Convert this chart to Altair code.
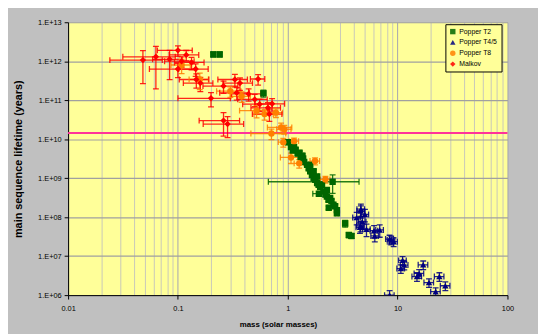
import altair as alt
import pandas as pd

SERIES = ["Popper T2", "Popper T4/5", "Popper T8", "Malkov"]
COLORS = ["#006600", "#000080", "#FF8000", "#FF0000"]
SHAPES = ["square", "triangle-up", "circle", "diamond"]

# Popper T2 (green squares)
T2_mass = [0.21, 0.24, 0.60, 1.00, 1.07, 1.11, 1.14, 1.18, 1.23, 1.28,
           1.31, 1.36, 1.38, 1.41, 1.50, 1.55, 1.60, 1.60, 1.66, 1.72,
           1.72, 1.78, 1.85, 1.85, 1.91, 1.97, 2.05, 2.11, 2.20, 2.27,
           2.27, 2.35, 2.36, 2.43, 2.50, 2.60, 2.70, 2.80, 2.80, 1.92,
           2.56, 3.33, 3.60, 3.80]
T2_life = [1.5e12, 1.5e12, 1.5e11, 8.4e9, 6.3e9, 5.1e9, 6.3e9, 5.4e9, 4.3e9, 4.5e9,
           3.5e9, 3.8e9, 3.2e9, 2.6e9, 2.2e9, 1.8e9, 1.5e9, 2.2e9, 1.2e9, 1.0e9,
           1.5e9, 9.1e8, 7.5e8, 1.1e9, 6.8e8, 5.9e8, 6.8e8, 4.6e8, 3.8e8, 3.4e8,
           5.0e8, 2.8e8, 1.75e8, 3.1e8, 2.6e8, 2.1e8, 1.9e8, 1.5e8, 1.25e8, 4.0e8,
           8.1e8, 6.9e7, 3.5e7, 3.3e7]
T2_ex = [0.04, 0.04, 0.05, 0.04, 0.03, 0.03, 0.03, 0.03, 0.03, 0.03,
         0.03, 0.03, 0.03, 0.03, 0.03, 0.03, 0.03, 0.03, 0.03, 0.03,
         0.03, 0.03, 0.03, 0.03, 0.03, 0.03, 0.03, 0.03, 0.03, 0.03,
         0.03, 0.03, 0.03, 0.03, 0.03, 0.03, 0.03, 0.03, 0.03, 0.12,
         0.74, 0.05, 0.05, 0.05]
T2_ey = [0.15, 0.15, 0.2, 0.15, 0.1, 0.1, 0.1, 0.1, 0.1, 0.1,
         0.1, 0.1, 0.1, 0.1, 0.1, 0.1, 0.1, 0.1, 0.1, 0.1,
         0.1, 0.1, 0.1, 0.1, 0.1, 0.1, 0.1, 0.1, 0.1, 0.1,
         0.1, 0.1, 0.1, 0.1, 0.1, 0.1, 0.1, 0.1, 0.1, 0.12,
         0.5, 0.2, 0.15, 0.15]

# Popper T4/5 (navy triangles)
B_mass = [4.63, 4.63, 4.24, 5.04, 4.77, 4.54, 4.60, 5.21, 6.10, 6.20,
          6.87, 8.45, 8.74, 9.20, 11.1, 11.5, 10.7, 17.1, 15.7, 15.0,
          19.3, 24.0, 27.2, 22.2, 8.45]
B_life = [1.45e8, 1.6e8, 9.8e7, 1.17e8, 7.6e7, 5.5e7, 6.0e7, 4.9e7, 4.5e7, 3.3e7,
          4.7e7, 2.75e7, 2.6e7, 2.35e7, 7.8e6, 5.9e6, 4.8e6, 6.0e6, 3.6e6, 3.0e6,
          2.1e6, 3.0e6, 1.74e6, 1.23e6, 1.0e6]
B_ex = [0.08, 0.08, 0.08, 0.08, 0.08, 0.08, 0.08, 0.08, 0.08, 0.08,
        0.08, 0.08, 0.08, 0.08, 0.08, 0.08, 0.08, 0.1, 0.1, 0.1,
        0.1, 0.1, 0.1, 0.1, 0.1]
B_ey = [0.35, 0.35, 0.35, 0.35, 0.35, 0.3, 0.3, 0.35, 0.35, 0.3,
        0.35, 0.25, 0.25, 0.25, 0.25, 0.25, 0.25, 0.25, 0.25, 0.25,
        0.25, 0.25, 0.25, 0.25, 0.3]

# Popper T8 (orange circles)
O_mass = [0.108, 0.158, 0.30, 0.38, 0.52, 0.615, 0.78, 0.87, 0.93, 0.71,
          0.91, 1.14, 1.07, 1.27, 1.77, 2.20]
O_life = [8.0e11, 3.4e11, 1.7e11, 1.26e11, 5.4e10, 4.4e10, 4.8e10, 2.0e10, 1.8e10, 1.4e10,
          8.4e9, 8.9e9, 3.4e9, 2.4e9, 2.75e9, 9.3e8]
O_ex = [0.2, 0.2, 0.25, 0.2, 0.3, 0.2, 0.15, 0.25, 0.15, 0.35,
        0.1, 0.1, 0.2, 0.1, 0.1, 0.1]
O_ey = [0.4, 0.45, 0.3, 0.3, 0.35, 0.3, 0.25, 0.3, 0.25, 0.3,
        0.25, 0.2, 0.3, 0.25, 0.2, 0.2]

# Malkov (red diamonds)
M_mass = [0.048, 0.063, 0.084, 0.100, 0.119, 0.100, 0.145, 0.147, 0.160, 0.200,
          0.260, 0.330, 0.367, 0.537, 0.343, 0.440, 0.500, 0.555, 0.720, 0.660,
          0.680, 0.260, 0.283, 0.133, 0.108]
M_life = [1.07e12, 1.3e12, 1.12e12, 1.9e12, 1.45e12, 6.3e11, 6.3e11, 3.4e11, 2.75e11, 1.12e11,
          2.3e11, 3.4e11, 2.75e11, 3.5e11, 1.55e11, 1.45e11, 1.05e11, 7.9e10, 8.1e10, 6.4e10,
          4.4e10, 3.0e10, 2.45e10, 9.3e11, 1.0e12]
M_ex = [0.5, 0.5, 0.3, 0.35, 0.3, 0.45, 0.3, 0.3, 0.3, 0.5,
        0.35, 0.3, 0.3, 0.15, 0.3, 0.3, 0.3, 0.3, 0.3, 0.3,
        0.3, 0.4, 0.4, 0.3, 0.3]
M_ey = [0.75, 0.85, 0.7, 0.3, 0.3, 0.4, 0.35, 0.4, 0.4, 0.4,
        0.35, 0.35, 0.35, 0.3, 0.35, 0.35, 0.35, 0.35, 0.35, 0.35,
        0.35, 0.6, 0.55, 0.35, 0.3]

UNIVERSE_AGE = 1.45e10

X_TICKS = [0.01, 0.02, 0.03, 0.04, 0.05, 0.06, 0.07, 0.08, 0.09,
           0.1, 0.2, 0.3, 0.4, 0.5, 0.6, 0.7, 0.8, 0.9,
           1, 2, 3, 4, 5, 6, 7, 8, 9,
           10, 20, 30, 40, 50, 60, 70, 80, 90, 100]
Y_TICKS = [1e6, 1e7, 1e8, 1e9, 1e10, 1e11, 1e12, 1e13]

rows = []
for name, ms, ls, exs, eys in [
    (SERIES[0], T2_mass, T2_life, T2_ex, T2_ey),
    (SERIES[1], B_mass, B_life, B_ex, B_ey),
    (SERIES[2], O_mass, O_life, O_ex, O_ey),
    (SERIES[3], M_mass, M_life, M_ex, M_ey),
]:
    for m, l, ex, ey in zip(ms, ls, exs, eys):
        rows.append(dict(series=name, mass=m, life=l,
                         mlo=m * (1 - ex), mhi=m * (1 + ex),
                         llo=l * (1 - ey), lhi=l * (1 + ey)))
df = pd.DataFrame(rows)

FONT = "Liberation Sans"
MAJOR = "abs(log(datum.value)/LN10 - round(log(datum.value)/LN10)) < 0.001"

XS = alt.Scale(type="log", domain=[0.01, 100], nice=False)
YS = alt.Scale(type="log", domain=[1e6, 1e13], nice=False)

X_AX = alt.Axis(values=X_TICKS, format="~g",
                labelExpr=f"{MAJOR} ? datum.label : ''",
                gridColor={"condition": {"test": MAJOR, "value": "#A4A4B0"}, "value": "#C8C8BA"},
                tickColor={"condition": {"test": MAJOR, "value": "#000000"}, "value": "transparent"},
                tickSize=4, labelPadding=6, labelFontSize=7.5, labelOverlap=False,
                labelFlush=False, domainColor="#000000", labelColor="#000000",
                title="mass (solar masses)", titleFontSize=8, titleFontWeight="bold",
                titlePadding=8, titleX=213)
Y_AX = alt.Axis(values=Y_TICKS,
                labelExpr="'1.E+' + (round(log(datum.value)/LN10) < 10 ? '0' : '') + round(log(datum.value)/LN10)",
                gridColor="#A0A0A0", gridWidth=1.2, tickColor="#000000", tickSize=4,
                labelPadding=3, labelFontSize=7.5, labelOverlap=False, labelFlush=False,
                domainColor="#000000", labelColor="#000000",
                title="main sequence lifetime (years)", titleFontSize=11,
                titleFontWeight="bold", titlePadding=14)

LEG = alt.Legend(title=None, orient="none", legendX=383, legendY=2,
                 fillColor="#FFFF99", strokeColor="#000000",
                 padding=4, rowPadding=3, labelFontSize=7,
                 labelFont=FONT, labelColor="#000000",
                 symbolSize=30, labelOffset=3, symbolStrokeWidth=0)
CSCALE = alt.Scale(domain=SERIES, range=COLORS)
color_enc = alt.Color("series:N", scale=CSCALE, legend=LEG)
base = alt.Chart(df)

age_line = alt.Chart(pd.DataFrame({"age": [UNIVERSE_AGE]})).mark_rule(
    color="#FF3399", strokeWidth=2).encode(y=alt.Y("age:Q", scale=YS, axis=Y_AX))

hbars = base.mark_rule(strokeWidth=1.3, opacity=0.85, clip=True).encode(
    x=alt.X("mlo:Q", scale=XS, axis=X_AX), x2="mhi:Q",
    y=alt.Y("life:Q", scale=YS, axis=Y_AX), color=color_enc)
hcap_lo = base.mark_tick(orient="vertical", size=6, thickness=1.3, opacity=0.85, clip=True).encode(
    x=alt.X("mlo:Q", scale=XS, axis=X_AX), y=alt.Y("life:Q", scale=YS, axis=Y_AX), color=color_enc)
hcap_hi = base.mark_tick(orient="vertical", size=6, thickness=1.3, opacity=0.85, clip=True).encode(
    x=alt.X("mhi:Q", scale=XS, axis=X_AX), y=alt.Y("life:Q", scale=YS, axis=Y_AX), color=color_enc)
vbars = base.mark_rule(strokeWidth=1.3, opacity=0.85, clip=True).encode(
    x=alt.X("mass:Q", scale=XS, axis=X_AX),
    y=alt.Y("llo:Q", scale=YS, axis=Y_AX), y2="lhi:Q", color=color_enc)
vcap_lo = base.mark_tick(orient="horizontal", size=6, thickness=1.3, opacity=0.85, clip=True).encode(
    x=alt.X("mass:Q", scale=XS, axis=X_AX), y=alt.Y("llo:Q", scale=YS, axis=Y_AX), color=color_enc)
vcap_hi = base.mark_tick(orient="horizontal", size=6, thickness=1.3, opacity=0.85, clip=True).encode(
    x=alt.X("mass:Q", scale=XS, axis=X_AX), y=alt.Y("lhi:Q", scale=YS, axis=Y_AX), color=color_enc)

points = base.mark_point(filled=True, opacity=1, size=42, clip=True).encode(
    x=alt.X("mass:Q", scale=XS, axis=X_AX),
    y=alt.Y("life:Q", scale=YS, axis=Y_AX),
    color=color_enc,
    shape=alt.Shape("series:N", scale=alt.Scale(domain=SERIES, range=SHAPES), legend=LEG),
)

chart = alt.layer(age_line, hbars, hcap_lo, hcap_hi, vbars, vcap_lo, vcap_hi, points).properties(
    width=446, height=277,
    padding={"left": 61, "top": 12, "right": 31, "bottom": 37},
    autosize=alt.AutoSizeParams(type="none"),
    background="#C0C0C0",
).configure_view(fill="#FFFF99", stroke="transparent").configure_axis(
    labelFont=FONT, titleFont=FONT, domainWidth=1, gridWidth=1
).configure_legend(labelFont=FONT)

chart.save("out.html", embed_options={"renderer": "svg", "actions": False})
